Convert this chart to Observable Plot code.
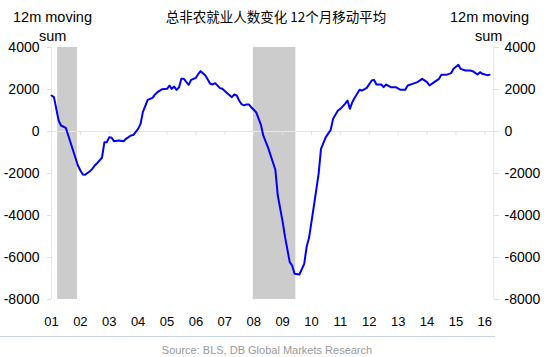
<!DOCTYPE html>
<html>
<head>
<meta charset="utf-8">
<script src="https://cdn.jsdelivr.net/npm/d3@7"></script>
<script src="https://cdn.jsdelivr.net/npm/@observablehq/plot@0.6"></script>
<style>
  html, body { margin: 0; padding: 0; background: #fff; }
  #wrap { position: relative; width: 550px; height: 357px; overflow: hidden; font-family: "Liberation Sans", Arial, sans-serif; }
  #wrap svg { position: absolute; left: 0; top: 0; }
  .t { position: absolute; white-space: nowrap; line-height: 1; }
</style>
</head>
<body>
<div id="wrap"></div>
<script>
// Monthly 12m moving sum of nonfarm payroll changes (thousands)
const dates = [
  "2001-01","2001-02","2001-04","2001-05","2001-07","2001-08","2001-10","2001-12",
  "2002-01","2002-02","2002-03","2002-05","2002-06","2002-07","2002-08","2002-10","2002-11","2002-12",
  "2003-01","2003-02","2003-03","2003-05","2003-07","2003-08","2003-10","2003-11",
  "2004-01","2004-02","2004-03","2004-05","2004-07","2004-08","2004-09","2004-11",
  "2005-01","2005-02","2005-03","2005-04","2005-05","2005-06","2005-07","2005-08","2005-10","2005-11",
  "2006-01","2006-02","2006-03","2006-05","2006-07","2006-08","2006-09","2006-11","2006-12",
  "2007-02","2007-04","2007-05","2007-06","2007-07","2007-08","2007-09","2007-10","2007-11","2007-12",
  "2008-02","2008-04","2008-05","2008-07","2008-10","2008-11",
  "2009-01","2009-02","2009-04","2009-05","2009-06","2009-08","2009-10","2009-11","2009-12",
  "2010-02","2010-04","2010-05","2010-07","2010-09","2010-10","2010-12",
  "2011-01","2011-03","2011-04","2011-05","2011-06","2011-07","2011-09","2011-10","2011-12",
  "2012-02","2012-03","2012-04","2012-06","2012-07","2012-08","2012-10","2012-12",
  "2013-02","2013-04","2013-05","2013-07","2013-09","2013-11",
  "2014-01","2014-02","2014-04","2014-06","2014-07","2014-09","2014-11","2014-12",
  "2015-02","2015-03","2015-05","2015-07","2015-08","2015-10","2015-11","2015-12",
  "2016-02","2016-03"
];
const values = [
  1714,1635,524,286,175,-190,-905,-1620,
  -1857,-2050,-2060,-1890,-1780,-1620,-1510,-1250,-510,-510,
  -270,-300,-460,-430,-460,-350,-190,-170,
  127,365,920,1508,1603,1760,1871,2016,
  2032,2190,2032,2142,1984,2100,2508,2508,2222,2460,
  2555,2746,2873,2667,2270,2240,2302,2064,2032,
  1825,1635,1762,1714,1476,1300,1240,1290,1290,1158,
  920,330,-190,-770,-1820,-3050,
  -4290,-5031,-6222,-6381,-6778,-6810,-6302,-5476,-5063,
  -3524,-2016,-825,-270,80,603,1000,
  1079,1317,1476,1079,1397,1603,1984,1952,2079,
  2428,2460,2238,2238,2111,2238,2111,2111,
  1984,1984,2190,2270,2349,2508,
  2349,2190,2349,2508,2698,2698,2778,2984,
  3175,2984,2905,2905,2873,2714,2825,2746,
  2683,2698
];
// Recessions (NBER)
const recStart = ["2001-03-20", "2007-12-28"];
const recEnd   = ["2001-11-25", "2009-06-17"];
const yTicks = [-8000, -6000, -4000, -2000, 0, 2000, 4000];
const xTickLabels = ["01","02","03","04","05","06","07","08","09","10","11","12","13","14","15","16"];

const parse = d3.utcParse("%Y-%m");
const parseDay = d3.utcParse("%Y-%m-%d");
const series = dates.map((d, i) => ({date: parse(d), value: values[i]}));
const recessions = recStart.map((s, i) => ({start: parseDay(s), end: parseDay(recEnd[i])}));
const xTicks = xTickLabels.map(s => new Date(Date.UTC(2000 + (+s), 0, 1)));
const xDomain = [new Date(Date.UTC(2001, 0, 1)), new Date(Date.UTC(2016, 3, 20))];

const chart = Plot.plot({
  width: 550,
  height: 357,
  marginLeft: 51,
  marginRight: 57,
  marginTop: 47,
  marginBottom: 58,
  style: {fontFamily: "'Liberation Sans', Arial, sans-serif", fontSize: "14px", background: "transparent", color: "#000"},
  x: {type: "utc", domain: xDomain},
  y: {domain: [-8000, 4000]},
  marks: [
    Plot.rectX(recessions, {x1: "start", x2: "end", y1: -8000, y2: 4000, fill: "#cccccc"}),
    Plot.ruleY([0], {stroke: "#e6e6e6", strokeWidth: 1, insetLeft: -4}),
    Plot.ruleX(xTicks.slice(1), {x: d => d, y1: 0, y2: 0, insetBottom: -4, stroke: "#e0e0e0"}),
    Plot.ruleX([xDomain[0]], {stroke: "#e6e6e6"}),
    Plot.ruleX([xDomain[1]], {stroke: "#e6e6e6"}),
    Plot.axisY({anchor: "left", ticks: yTicks, tickFormat: d => String(d), tickSize: 4, tickPadding: 8, stroke: "#dddddd", label: null, fontSize: 14}),
    Plot.axisY({anchor: "right", ticks: yTicks, tickFormat: d => String(d), tickSize: 5, tickPadding: 6, stroke: "#dddddd", label: null, fontSize: 14}),
    Plot.axisX({ticks: xTicks, tickFormat: (d, i) => xTickLabels[i], tickSize: 0, tickPadding: 17, label: null, fontSize: 13}),
    Plot.line(series, {x: "date", y: "value", stroke: "#0000ff", strokeWidth: 2})
  ]
});

const wrap = document.getElementById("wrap");
wrap.appendChild(chart);

function addText(txt, style) {
  const el = document.createElement("div");
  el.className = "t";
  el.textContent = txt;
  Object.assign(el.style, style);
  wrap.appendChild(el);
  return el;
}
addText("总非农就业人数变化 12个月移动平均", {left: "0px", width: "552px", textAlign: "center", top: "10px", fontSize: "13.5px", fontFamily: "'Noto Sans CJK SC', sans-serif"});
addText("12m moving", {left: "13px", top: "10px", fontSize: "14.5px"});
addText("sum", {left: "39px", top: "29px", fontSize: "14.5px"});
addText("12m moving", {left: "450px", top: "10px", fontSize: "14.5px"});
addText("sum", {left: "475px", top: "29px", fontSize: "14.5px"});
addText("Source: BLS, DB Global Markets Research", {left: "0px", width: "534px", textAlign: "center", top: "345px", fontSize: "11px", color: "#9a9a9a"});
const line = document.createElement("div");
Object.assign(line.style, {position: "absolute", left: "0px", top: "336px", width: "495px", height: "1px", background: "#c9d3df"});
wrap.appendChild(line);
</script>
</body>
</html>
